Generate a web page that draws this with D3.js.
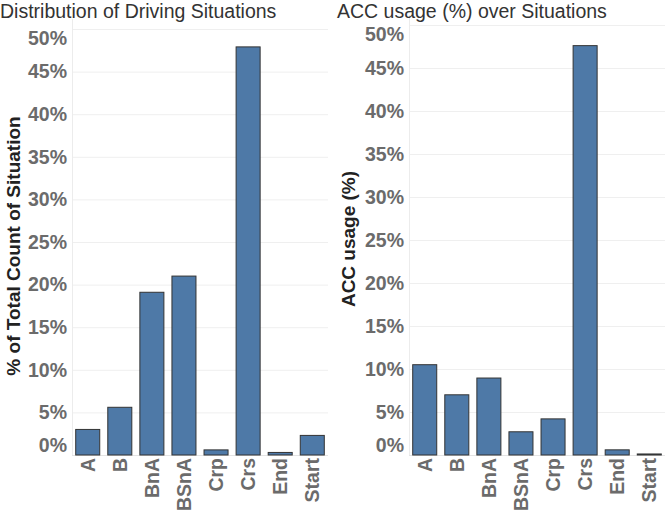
<!DOCTYPE html>
<html><head><meta charset="utf-8">
<script src="https://cdn.jsdelivr.net/npm/d3@7"></script>
<style>
body{margin:0;background:#fff;}
svg{display:block;font-family:"Liberation Sans",Arial,sans-serif;}
</style></head>
<body>
<svg id="c" width="665" height="512"></svg>
<script>
const categories = ["A","B","BnA","BSnA","Crp","Crs","End","Start"];
const distValues = [3.0, 5.6, 19.1, 21.0, 0.6, 47.9, 0.3, 2.3];
const accValues  = [10.5, 7.0, 8.95, 2.7, 4.2, 47.6, 0.6, 0.12];
const yTicks = [0,5,10,15,20,25,30,35,40,45,50];
const titles = ["Distribution of Driving Situations","ACC usage (%) over Situations"];
const yTitles = ["% of Total Count of Situation","ACC usage (%)"];

const svg = d3.select("#c");
const panels = [
  {x0:72, x1:328, yTop:29, yBase:455, titleX:0, ytX:13, ytY:246, vals:distValues},
  {x0:409, x1:665, yTop:25, yBase:455, titleX:337, ytX:348, ytY:239, vals:accValues}
];

panels.forEach((p,i)=>{
  const g = svg.append("g");
  const x = d3.scaleBand().domain(categories).range([p.x0,p.x1]).paddingInner(0.22).paddingOuter(0.1);
  const y = d3.scaleLinear().domain([0,50]).range([p.yBase,p.yTop]);

  g.append("g").selectAll("line").data(yTicks.filter(d=>d>0)).join("line")
    .attr("x1",p.x0).attr("x2",p.x1).attr("y1",d=>y(d)+0.5).attr("y2",d=>y(d)+0.5)
    .attr("stroke","#efefef").attr("stroke-width",1);
  g.append("line").attr("x1",p.x0+0.5).attr("x2",p.x0+0.5).attr("y1",p.yTop-10).attr("y2",p.yBase)
    .attr("stroke","#ececec");
  g.append("line").attr("x1",p.x0).attr("x2",p.x1).attr("y1",p.yBase+0.5).attr("y2",p.yBase+0.5)
    .attr("stroke","#e4e4e4");

  g.append("g").selectAll("rect").data(categories).join("rect")
    .attr("x",d=>x(d)+0.5).attr("width",x.bandwidth()-1)
    .attr("y",(d,j)=>y(p.vals[j])).attr("height",(d,j)=>Math.max(0.8,p.yBase-y(p.vals[j])))
    .attr("fill","#4e79a7").attr("stroke","#333").attr("stroke-width",1);

  const ya = g.append("g").attr("transform",`translate(${p.x0-5},0)`)
    .call(d3.axisLeft(y).tickValues(yTicks).tickFormat(d=>d+"%").tickSize(0).tickPadding(0));
  ya.select(".domain").remove();
  ya.selectAll("text").attr("font-family","Liberation Sans, Arial, sans-serif")
    .attr("font-size",19.5).attr("font-weight","bold").attr("fill","#6b6b6b")
    .attr("dy",d=> d===0 ? "-0.2em" : d===50 ? "0.8em" : "0.32em");

  const xa = g.append("g").attr("transform",`translate(0,${p.yBase})`)
    .call(d3.axisBottom(x).tickSize(0).tickPadding(0));
  xa.select(".domain").remove();
  xa.selectAll("text").attr("font-family","Liberation Sans, Arial, sans-serif")
    .attr("font-size",19.5).attr("font-weight","bold").attr("fill","#6b6b6b")
    .attr("transform","rotate(-90)").attr("text-anchor","end")
    .attr("x",-3).attr("y",0).attr("dy","0.35em");

  svg.append("text").attr("x",p.titleX).attr("y",18).text(titles[i])
    .attr("font-size",19.5).attr("fill","#333");
  svg.append("text").attr("transform",`translate(${p.ytX},${p.ytY}) rotate(-90)`)
    .attr("text-anchor","middle").attr("dy","0.35em").text(yTitles[i])
    .attr("font-size",19).attr("font-weight","bold").attr("fill","#222");
});
</script>
</body></html>
